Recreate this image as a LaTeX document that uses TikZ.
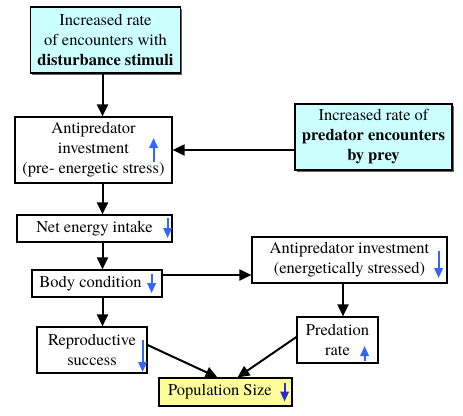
\documentclass[tikz,border=0pt]{standalone}
\usepackage{fontspec}
\setmainfont{texgyretermes}[Extension=.otf,UprightFont=*-regular,BoldFont=*-bold]
\usetikzlibrary{arrows.meta,shadows}
\definecolor{Ink}{HTML}{000000}
\definecolor{Sky}{HTML}{CCFFFF}
\definecolor{Butter}{HTML}{FFFF99}
\definecolor{Cue}{HTML}{3366FF}
\definecolor{DeepCue}{HTML}{2E2ECC}

\begin{document}
\begin{tikzpicture}[x=1pt,y=-1pt,every node/.style={font=\rmfamily\fontsize{16.5}{20}\selectfont,text=Ink},
  box/.style={draw=Ink,line width=1.2pt,fill=white,align=center,inner sep=0pt},
  cause/.style={box,fill=Sky,drop shadow={shadow xshift=1.5pt,shadow yshift=-1.5pt,fill=black!60,opacity=1}},
  outcome/.style={box,fill=Butter},
  flow/.style={-{Triangle[length=12pt,width=11pt]},line width=2pt,Ink},
  cue/.style={-{Triangle[length=10pt,width=8.5pt]},line width=2pt,Cue}]
\fill[white] (0,0) rectangle (463,415);
\useasboundingbox (0,0) rectangle (463,415);
\node[cause,minimum width=150,minimum height=66] (dist) at (105.5,40) {Increased rate\\of encounters with\\\textbf{disturbance stimuli}};
\node[cause,minimum width=157,minimum height=66] (pred) at (373.5,137) {Increased rate of\\\textbf{predator encounters}\\\textbf{by prey}};
\node[box,minimum width=157,minimum height=66] (anti1) at (93.5,150) {Antipredator\\investment\\(pre- energetic stress)};
\node[box,minimum width=155,minimum height=27] (intake) at (94.5,228.5) {Net energy intake};
\node[box,minimum width=130,minimum height=27] (body) at (97,283.5) {Body condition\hspace*{13pt}};
\node[box,minimum width=110,minimum height=46] (repro) at (92,350) {Reproductive\\success};
\node[box,minimum width=195,minimum height=46] (anti2) at (349.5,260) {Antipredator investment\\(energetically stressed)};
\node[box,minimum width=81,minimum height=46] (predrate) at (337.5,340) {Predation\\rate};
\node[outcome,minimum width=133,minimum height=28] (popsize) at (225.5,392) {Population Size\hspace*{11pt}};
\coordinate (spine) at (102.5,0);
\coordinate (bodyout) at ([yshift=8.5pt]body.east);
\draw[flow] (dist.south -| spine) -- (anti1.north -| spine);
\draw[flow] (pred.west |- anti1.east) -- (anti1.east);
\draw[flow] (anti1.south -| spine) -- (intake.north -| spine);
\draw[flow] (intake.south -| spine) -- (body.north -| spine);
\draw[flow] (body.south -| spine) -- (repro.north -| spine);
\draw[flow] (bodyout) -- (bodyout -| anti2.west);
\draw[flow] ([xshift=-6.5pt]anti2.south) -- ([xshift=-6.5pt]anti2.south |- predrate.north);
\draw[flow] ([yshift=5pt]repro.east) -- ([xshift=-8pt]popsize.north);
\draw[flow] ([yshift=3pt]predrate.west) -- ([xshift=12pt]popsize.north);
\draw[cue] ([shift={(-19,12)}]anti1.east) -- ([shift={(-19,-12)}]anti1.east);
\draw[cue] ([shift={(-5,-10.5)}]intake.east) -- ([shift={(-5,9.5)}]intake.east);
\draw[cue] ([shift={(-11,-9.5)}]body.east) -- ([shift={(-11,9.5)}]body.east);
\draw[cue] ([shift={(-5,-10)}]repro.east) -- ([shift={(-5,22)}]repro.east);
\draw[cue] ([shift={(-9,-9)}]anti2.east) -- ([shift={(-9,18)}]anti2.east);
\draw[cue] ([shift={(-14,21)}]predrate.east) -- ([shift={(-14,6)}]predrate.east);
\draw[cue,DeepCue] ([shift={(-8,-9.5)}]popsize.east) -- ([shift={(-8,9.5)}]popsize.east);
\end{tikzpicture}
\end{document}
